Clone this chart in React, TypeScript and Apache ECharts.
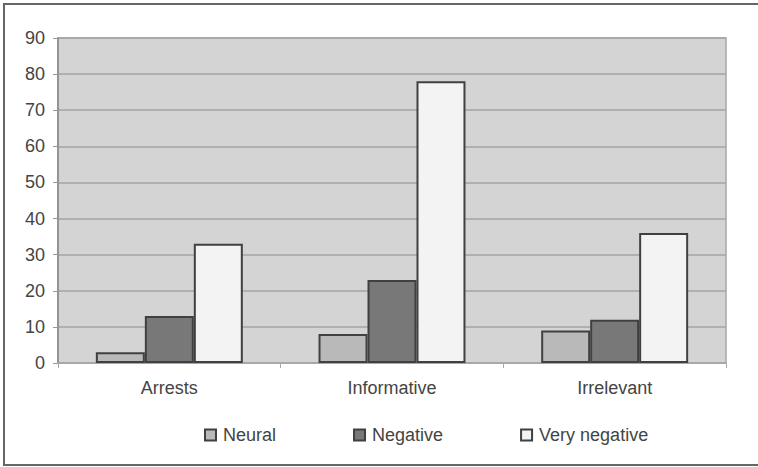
import React, { useEffect, useRef } from "react";
import * as echarts from "echarts";

const categories = ["Arrests", "Informative", "Irrelevant"];
const seriesNames = ["Neural", "Negative", "Very negative"];
const neural = [3, 8, 9];
const negative = [13, 23, 12];
const veryNegative = [33, 78, 36];
const seriesColors = ["#b9b9b9", "#787878", "#f3f3f3"];

export default function App() {
  const ref = useRef<HTMLDivElement>(null);
  useEffect(() => {
    document.body.style.margin = "0";
    const chart = echarts.init(ref.current!, null, { renderer: "svg" });
    const font = "Liberation Sans, Arial, sans-serif";
    const values = [neural, negative, veryNegative];
    chart.setOption({
      animation: false,
      backgroundColor: "#ffffff",
      textStyle: { fontFamily: font },
      grid: {
        left: 58,
        right: 32,
        top: 38,
        bottom: 104,
        show: true,
        backgroundColor: "#d4d4d4",
        borderColor: "#a8a8a8",
        borderWidth: 1.5,
      },
      legend: {
        left: 199,
        top: 421,
        itemWidth: 11,
        itemHeight: 11,
        itemGap: 77,
        icon: "rect",
        textStyle: { fontFamily: font, fontSize: 18, color: "#444444", padding: [0, 0, 0, 2] },
        data: seriesNames.map((name, i) => ({
          name,
          itemStyle: { color: seriesColors[i], borderColor: "#404040", borderWidth: 2 },
        })),
      },
      xAxis: {
        type: "category",
        data: categories,
        axisLine: { show: true, lineStyle: { color: "#a8a8a8", width: 1.5 } },
        axisTick: { show: true, length: 5, lineStyle: { color: "#a8a8a8" } },
        axisLabel: { fontFamily: font, fontSize: 18, color: "#444444", margin: 16 },
      },
      yAxis: {
        type: "value",
        min: 0,
        max: 90,
        interval: 10,
        axisLine: { show: true, lineStyle: { color: "#888888", width: 1.5 } },
        axisTick: { show: true, length: 5, lineStyle: { color: "#999999" } },
        axisLabel: { fontFamily: font, fontSize: 18, color: "#444444", margin: 13 },
        splitLine: { show: true, lineStyle: { color: "#a4a4a4", width: 1.5 } },
      },
      series: seriesNames.map((name, i) => ({
        name,
        type: "bar",
        data: values[i],
        barGap: "0%",
        barCategoryGap: "34%",
        itemStyle: { color: seriesColors[i], borderColor: "#404040", borderWidth: 2 },
      })),
      graphic: [
        {
          type: "rect",
          shape: { x: 4, y: 4, width: 760, height: 461 },
          style: { fill: "none", stroke: "#666666", lineWidth: 2 },
          silent: true,
        },
      ],
    });
    return () => chart.dispose();
  }, []);
  return <div ref={ref} style={{ width: 758, height: 467 }} />;
}
